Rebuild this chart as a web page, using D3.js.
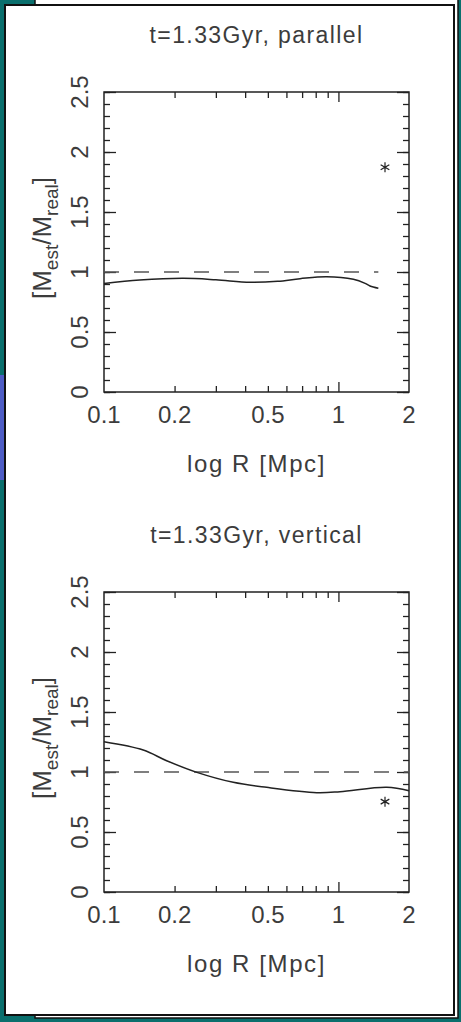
<!DOCTYPE html>
<html>
<head>
<meta charset="utf-8">
<script src="https://cdn.jsdelivr.net/npm/d3@7"></script>
<style>
  body { margin: 0; background: #0a6f6d; }
  svg { display: block; }
  text { font-family: "Liberation Sans", Arial, sans-serif; fill: #3c3c3c; }
</style>
</head>
<body>
<svg id="chart" width="461" height="1022"></svg>
<script>
// axis ticks
const xTickLabels = [0.1, 0.2, 0.5, 1, 2];
const xMinorTicks = [0.2, 0.3, 0.4, 0.5, 0.6, 0.7, 0.8, 0.9];
const yTickLabels = [0, 0.5, 1, 1.5, 2, 2.5];

// panel titles
const titles = ["t=1.33Gyr,  parallel", "t=1.33Gyr,  vertical"];

// parallel projection curve (R in Mpc, M_est/M_real)
const parallelR = [0.1, 0.142, 0.218, 0.3, 0.42, 0.55, 0.686, 0.891, 1.158, 1.3, 1.364, 1.48];
const parallelRatio = [0.905, 0.933, 0.947, 0.935, 0.914, 0.922, 0.944, 0.961, 0.939, 0.905, 0.883, 0.864];

// vertical projection curve
const verticalR = [0.1, 0.147, 0.185, 0.249, 0.356, 0.494, 0.808, 1.016, 1.607, 2.0];
const verticalRatio = [1.252, 1.183, 1.094, 0.997, 0.914, 0.872, 0.828, 0.836, 0.872, 0.844];

// single star markers
const starR = [1.58, 1.58];
const starRatio = [1.873, 0.753];

// where the dashed unity line stops
const unityEnd = [1.48, 2.0];

const svg = d3.select('#chart');

// slide background boxes
svg.append('rect').attr('x', 0).attr('y', 375).attr('width', 6).attr('height', 105).attr('fill', '#4d5cc4');
svg.append('rect')
  .attr('x', 35).attr('y', -5).attr('width', 423).attr('height', 1023)
  .attr('fill', 'white').attr('stroke', '#111').attr('stroke-width', 1.5);
svg.append('rect')
  .attr('x', 5).attr('y', 5).attr('width', 449).attr('height', 1010)
  .attr('fill', 'white').attr('stroke', '#111').attr('stroke-width', 2);

const left = 104, right = 409, plotH = 300;

const x = d3.scaleLog().domain([0.1, 2]).range([left, right]);

function drawPanel(i, top) {
  const y = d3.scaleLinear().domain([0, 2.5]).range([top + plotH, top]);
  const g = svg.append('g');

  // title
  g.append('text')
    .attr('x', (left + right) / 2).attr('y', top - 49)
    .attr('text-anchor', 'middle')
    .style('font-size', '23px').style('letter-spacing', '1.4px')
    .text(titles[i]);

  // ticks, drawn with d3 axes pointing inward
  const yMinor = d3.range(0, 2.51, 0.1);
  g.append('g').attr('transform', `translate(${left},0)`)
    .call(d3.axisRight(y).tickValues(yMinor).tickSize(6).tickFormat(''));
  g.append('g').attr('transform', `translate(${left},0)`)
    .call(d3.axisRight(y).tickValues(yTickLabels).tickSize(12).tickFormat(''));
  g.append('g').attr('transform', `translate(${right},0)`)
    .call(d3.axisLeft(y).tickValues(yMinor).tickSize(6).tickFormat(''));
  g.append('g').attr('transform', `translate(${right},0)`)
    .call(d3.axisLeft(y).tickValues(yTickLabels).tickSize(12).tickFormat(''));

  g.append('g').attr('transform', `translate(0,${top})`)
    .call(d3.axisBottom(x).tickValues(xMinorTicks).tickSize(6).tickFormat(''));
  g.append('g').attr('transform', `translate(0,${top})`)
    .call(d3.axisBottom(x).tickValues([1]).tickSize(10).tickFormat(''));
  g.append('g').attr('transform', `translate(0,${top + plotH})`)
    .call(d3.axisTop(x).tickValues(xMinorTicks).tickSize(6).tickFormat(''));
  g.append('g').attr('transform', `translate(0,${top + plotH})`)
    .call(d3.axisTop(x).tickValues([1]).tickSize(10).tickFormat(''));

  g.selectAll('.domain').remove();
  g.selectAll('.tick line').attr('stroke', '#222').attr('stroke-width', 1.3);

  // frame
  g.append('rect')
    .attr('x', left).attr('y', top).attr('width', right - left).attr('height', plotH)
    .attr('fill', 'none').attr('stroke', '#222').attr('stroke-width', 1.5);

  // tick labels
  g.selectAll('.xlab').data(xTickLabels).join('text')
    .attr('x', d => x(d)).attr('y', top + plotH + 31)
    .attr('text-anchor', 'middle').style('font-size', '24px')
    .text(d => d);

  g.selectAll('.ylab').data(yTickLabels).join('text')
    .attr('transform', d => `translate(88,${y(d)}) rotate(-90)`)
    .attr('text-anchor', 'middle').style('font-size', '24px')
    .text(d => d);

  // axis titles
  g.append('text')
    .attr('x', (left + right) / 2).attr('y', top + plotH + 80)
    .attr('text-anchor', 'middle')
    .style('font-size', '24px').style('letter-spacing', '1.6px')
    .text('log R [Mpc]');

  const yt = g.append('text')
    .attr('transform', `translate(51,${top + 146}) rotate(-90)`)
    .attr('text-anchor', 'middle').style('font-size', '26px');
  yt.append('tspan').text('[M');
  yt.append('tspan').attr('dy', 7).style('font-size', '19px').text('est');
  yt.append('tspan').attr('dy', -7).text('/M');
  yt.append('tspan').attr('dy', 7).style('font-size', '19px').text('real');
  yt.append('tspan').attr('dy', -7).text(']');

  // dashed unity line
  g.append('line')
    .attr('x1', x(0.1)).attr('x2', x(unityEnd[i]))
    .attr('y1', y(1)).attr('y2', y(1))
    .attr('stroke', '#555').attr('stroke-width', 1.6)
    .attr('stroke-dasharray', '15,15');

  // curve
  const rs = i === 0 ? parallelR : verticalR;
  const vs = i === 0 ? parallelRatio : verticalRatio;
  const line = d3.line()
    .x(d => x(d[0])).y(d => y(d[1]))
    .curve(d3.curveCatmullRom.alpha(0.5));
  g.append('path')
    .datum(d3.zip(rs, vs))
    .attr('d', line)
    .attr('fill', 'none').attr('stroke', '#222').attr('stroke-width', 1.5);

  // star marker
  g.append('path')
    .attr('transform', `translate(${x(starR[i])},${y(starRatio[i])})`)
    .attr('d', d3.symbol(d3.symbolAsterisk, 70)())
    .attr('fill', 'none').attr('stroke', '#222').attr('stroke-width', 1.2);
}

drawPanel(0, 92);
drawPanel(1, 592);
</script>
</body>
</html>
